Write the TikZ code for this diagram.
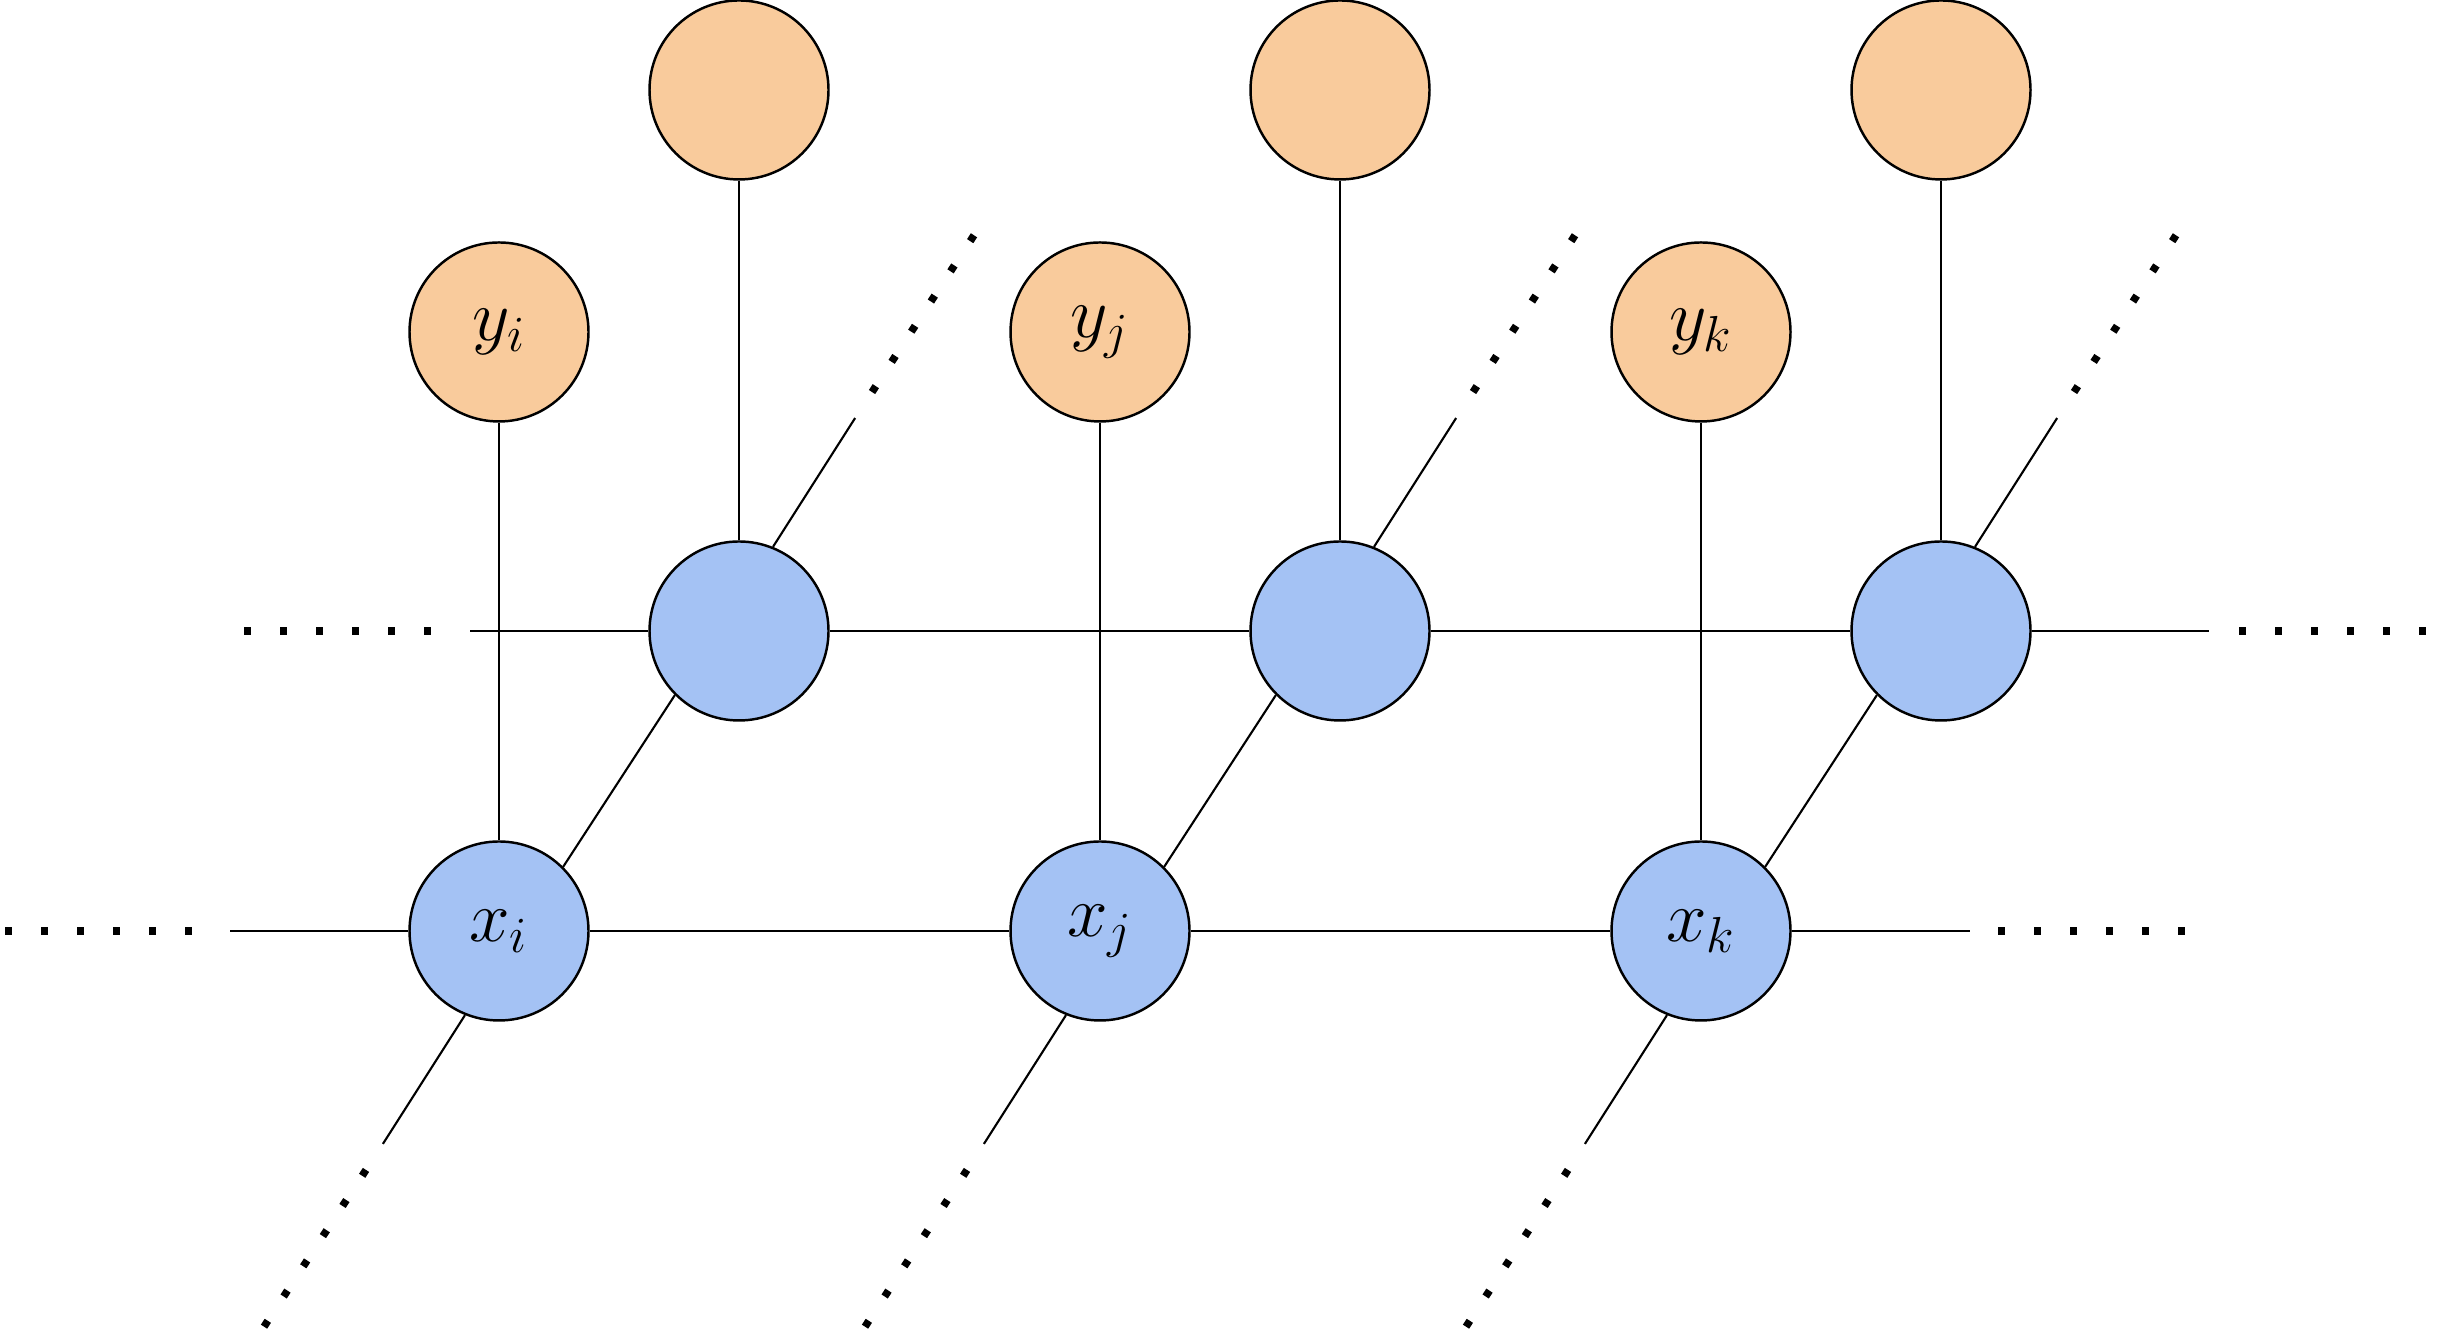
\documentclass[tikz,border=0pt]{standalone}
\usepackage{amsmath}
\usepackage{tikz}
\usetikzlibrary{calc,positioning}

\definecolor{latentblue}{HTML}{A4C2F4}
\definecolor{obsorange}{HTML}{F9CB9C}

\begin{document}
\begin{tikzpicture}[
  latent/.style={circle, draw, line width=0.7pt, fill=latentblue,
    minimum size=1.79cm, inner sep=0pt, font=\fontsize{20}{24}\selectfont},
  obs/.style={latent, fill=obsorange},
  link/.style={line width=0.6pt},
  dotrun/.style={line width=0.075cm, dash pattern=on 0.07cm off 0.29cm}
]
  \useasboundingbox (0,0) rectangle (24.57,13.32);

  % grid of hidden states with their observations
  \foreach \n [count=\c from 0] in {i,j,k} {
    \node[latent] (x\n) at ({4.99+6.01*\c},4.01) {$x_\n$};
    \node[obs]    (y\n) at ({4.99+6.01*\c},10.00) {$y_\n$};
    \node[latent] (u\n) at ({7.39+6.01*\c},7.01) {};
    \node[obs]    (t\n) at ({7.39+6.01*\c},12.42) {};
  }

  % vertical links and slanted chains
  \foreach \n in {i,j,k} {
    \draw[link] (y\n) -- (x\n);
    \draw[link] (t\n) -- (u\n);
    \draw[link] (x\n.north east) -- (u\n.south west);
    \coordinate (m\n) at ($(x\n.north east)!0.5!(u\n.south west)$);
    \draw[link] (x\n.248.8) -- ($(m\n)!4.33cm!(x\n.north east)$);
    \draw[link] (u\n.68.8) -- ($(m\n)!4.33cm!(u\n.south west)$);
    \draw[dotrun] ($(m\n)!4.64cm!(x\n.north east)$) -- ($(m\n)!6.57cm!(x\n.north east)$);
    \draw[dotrun] ($(m\n)!4.64cm!(u\n.south west)$) -- ($(m\n)!6.57cm!(u\n.south west)$);
  }

  % lower chain
  \coordinate (lowL) at ($(xi)+(-2.69,0)$);
  \coordinate (lowR) at ($(xk)+(2.69,0)$);
  \draw[link] (lowL) -- (xi);
  \draw[link] (xi) -- (xj);
  \draw[link] (xj) -- (xk);
  \draw[link] (xk) -- (lowR);
  \draw[dotrun] ($(xi)+(-4.94,0)$) -- ($(xi)+(-3.07,0)$);
  \draw[dotrun] ($(xk)+(2.97,0)$) -- ($(xk)+(4.86,0)$);

  % upper chain
  \coordinate (upL) at ($(ui)+(-2.69,0)$);
  \coordinate (upR) at ($(uk)+(2.68,0)$);
  \draw[link] (upL) -- (ui);
  \draw[link] (ui) -- (uj);
  \draw[link] (uj) -- (uk);
  \draw[link] (uk) -- (upR);
  \draw[dotrun] ($(ui)+(-4.95,0)$) -- ($(ui)+(-3.06,0)$);
  \draw[dotrun] ($(uk)+(2.98,0)$) -- ($(uk)+(4.87,0)$);
\end{tikzpicture}
\end{document}
